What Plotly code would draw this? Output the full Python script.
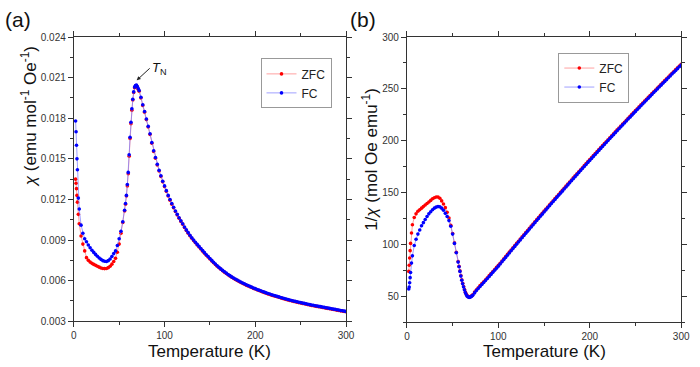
import plotly.graph_objects as go

# ---------------- data ----------------
T = [2, 2.5, 3, 3.5, 4, 5,
     6, 8, 10, 12, 14, 16, 18, 20, 22, 24, 26, 28, 30, 32, 34, 36, 38, 40, 42, 44, 46, 48, 50,
     52, 54,
     56, 57, 58, 59, 60, 61, 62, 63, 64, 65, 66, 67, 68, 69, 70, 71, 72,
     74, 76, 78, 80, 82, 84, 86, 88, 90, 92,
     94, 96, 98, 100, 102, 104, 106, 108, 110, 112,
     114, 116, 118, 120, 122, 124, 126, 128, 130, 132,
     134, 136, 138, 140, 142, 144, 146, 148, 150, 152,
     154, 156, 158, 160, 162, 164, 166, 168, 170, 172,
     174, 176, 178, 180, 182, 184, 186, 188, 190, 192,
     194, 196, 198, 200, 202, 204, 206, 208, 210, 212,
     214, 216, 218, 220, 222, 224, 226, 228, 230, 232,
     234, 236, 238, 240, 242, 244, 246, 248, 250, 252,
     254, 256, 258, 260, 262, 264, 266, 268, 270, 272,
     274, 276, 278, 280, 282, 284, 286, 288, 290, 292,
     294, 296, 298, 300]

# chi in units of 1e-3 emu mol^-1 Oe^-1
chi_fc = [17.8, 17.0, 16.0, 15.0, 14.2, 12.1,
          11.3, 10.1, 9.5, 9.1, 8.87, 8.63, 8.43, 8.25, 8.09, 7.94, 7.8, 7.68, 7.57, 7.48,
          7.43, 7.42, 7.48, 7.6, 7.78, 8.0, 8.2, 8.6, 9.1, 9.65, 10.35,
          11.2, 11.7, 12.3, 13.1, 14.0, 15.3, 16.6, 17.7, 18.7, 19.4, 19.95, 20.3, 20.42,
          20.45, 20.35, 20.2, 20.05,
          19.55, 19.0, 18.5, 17.95, 17.4, 16.85, 16.2, 15.6, 15.1, 14.6,
          14.15, 13.75, 13.35, 13.0, 12.65, 12.3, 12.0, 11.7, 11.42, 11.15,
          10.9, 10.65, 10.42, 10.2, 9.97, 9.75, 9.55, 9.35, 9.17, 9.0,
          8.84, 8.68, 8.53, 8.38, 8.22, 8.07, 7.92, 7.78, 7.64, 7.5,
          7.36, 7.23, 7.1, 6.98, 6.87, 6.76, 6.66, 6.56, 6.46, 6.37,
          6.28, 6.2, 6.12, 6.05, 5.97, 5.9, 5.83, 5.77, 5.7, 5.64,
          5.58, 5.52, 5.46, 5.41, 5.35, 5.3, 5.25, 5.2, 5.15, 5.1,
          5.05, 5.01, 4.96, 4.92, 4.88, 4.84, 4.8, 4.76, 4.72, 4.68,
          4.64, 4.61, 4.57, 4.54, 4.5, 4.47, 4.44, 4.41, 4.38, 4.35,
          4.32, 4.29, 4.26, 4.23, 4.2, 4.18, 4.15, 4.13, 4.1, 4.08,
          4.05, 4.03, 4.0, 3.98, 3.95, 3.93, 3.9, 3.88, 3.85, 3.83,
          3.8, 3.78, 3.75, 3.73]

chi_zfc = [13.5, 13.2, 12.8, 12.3, 11.8, 10.9,
           10.2, 9.3, 8.7, 8.2, 7.7, 7.5, 7.37, 7.28, 7.2, 7.13, 7.07, 7.0, 6.94, 6.9,
           6.89, 6.9, 6.96, 7.06, 7.22, 7.42, 7.65, 8.1, 8.7, 9.5, 10.3,
           11.15, 11.65, 12.25, 13.0, 13.9, 15.2, 16.5, 17.6, 18.6, 19.35, 19.9, 20.25, 20.38,
           20.4, 20.3, 20.15, 20.0,
           19.5, 18.95, 18.45, 17.9, 17.35, 16.8, 16.15, 15.55, 15.05, 14.55,
           14.1, 13.7, 13.3, 12.95, 12.6, 12.25, 11.95, 11.65, 11.38, 11.11,
           10.86, 10.61, 10.38, 10.16, 9.93, 9.71, 9.51, 9.31, 9.13, 8.96,
           8.8, 8.64, 8.49, 8.34, 8.18, 8.03, 7.88, 7.74, 7.6, 7.46,
           7.32, 7.19, 7.07, 6.95, 6.84, 6.73, 6.63, 6.53, 6.43, 6.34,
           6.25, 6.17, 6.09, 6.02, 5.94, 5.87, 5.8, 5.74, 5.67, 5.61,
           5.55, 5.49, 5.43, 5.38, 5.32, 5.27, 5.22, 5.17, 5.12, 5.07,
           5.02, 4.98, 4.93, 4.89, 4.85, 4.81, 4.77, 4.73, 4.69, 4.65,
           4.61, 4.58, 4.54, 4.51, 4.47, 4.44, 4.41, 4.38, 4.35, 4.32,
           4.29, 4.26, 4.23, 4.2, 4.17, 4.15, 4.12, 4.1, 4.07, 4.05,
           4.02, 4.0, 3.97, 3.95, 3.92, 3.9, 3.87, 3.85, 3.82, 3.8,
           3.77, 3.75, 3.72, 3.7]

# 1/chi in mol Oe emu^-1
inv_fc = [57, 59, 63, 68, 73, 82,
          89, 99, 105, 110, 114, 118, 121, 124, 127, 129.5, 131.5, 133.5, 135, 136, 136.5,
          136.3, 135, 133, 130, 127, 123, 117.5, 110, 101, 92,
          83, 78.5, 74, 69.5, 65.5, 62, 59, 56, 53.5, 51.5, 50, 49.3, 49, 49.1, 49.5, 50.2, 51,
          53.3, 55.5, 57.5, 59.5, 61.4, 63.3, 65.2, 67.1, 69.1, 71.1,
          73.1, 75.1, 77.1, 79.1, 81.1, 83.3, 85.4, 87.5, 89.6, 91.8,
          93.9, 96.0, 98.1, 100.2, 102.3, 104.4, 106.5, 108.6, 110.7, 112.7,
          114.8, 116.9, 118.9, 121.0, 123.1, 125.1, 127.2, 129.2, 131.3, 133.3,
          135.3, 137.4, 139.4, 141.4, 143.4, 145.4, 147.4, 149.4, 151.4, 153.4,
          155.4, 157.4, 159.4, 161.4, 163.4, 165.4, 167.3, 169.3, 171.3, 173.2,
          175.2, 177.1, 179.1, 181.0, 182.9, 184.9, 186.8, 188.7, 190.7, 192.6,
          194.5, 196.4, 198.3, 200.2, 202.1, 204.0, 205.9, 207.8, 209.7, 211.5,
          213.4, 215.3, 217.1, 219.0, 220.9, 222.7, 224.6, 226.4, 228.3, 230.1,
          231.9, 233.8, 235.6, 237.4, 239.2, 241.0, 242.8, 244.6, 246.5, 248.2,
          250.0, 251.8, 253.6, 255.4, 257.2, 258.9, 260.7, 262.5, 264.3, 266.0,
          267.8, 269.5, 271.3, 273.0]

inv_zfc = [74, 80, 87, 94, 101, 111,
           119, 126, 129.5, 132, 133.5, 135, 136.5, 138, 139.5, 141, 142.5, 144, 145, 145.8,
           145.7, 144.5, 142, 139, 135.5, 131, 125.5, 118.5, 110.5, 101.5, 92.5,
           83.5, 79, 74.5, 70, 66, 62.5, 59.5, 56.5, 54, 52, 50.4, 49.7, 49.4, 49.5, 49.9, 50.6,
           51.4,
           54.1, 56.3, 58.3, 60.3, 62.2, 64.1, 66.0, 67.9, 69.9, 71.9,
           73.9, 75.9, 77.9, 79.9, 81.9, 84.1, 86.2, 88.3, 90.4, 92.6,
           94.7, 96.8, 98.9, 101.0, 103.1, 105.2, 107.3, 109.4, 111.5, 113.5,
           115.6, 117.7, 119.7, 121.8, 123.9, 125.9, 128.0, 130.0, 132.1, 134.1,
           136.1, 138.2, 140.2, 142.2, 144.2, 146.2, 148.2, 150.2, 152.2, 154.2,
           156.2, 158.2, 160.2, 162.2, 164.2, 166.2, 168.1, 170.1, 172.1, 174.0,
           176.0, 177.9, 179.9, 181.8, 183.7, 185.7, 187.6, 189.5, 191.5, 193.4,
           195.3, 197.2, 199.1, 201.0, 202.9, 204.8, 206.7, 208.6, 210.5, 212.3,
           214.2, 216.1, 217.9, 219.8, 221.7, 223.5, 225.4, 227.2, 229.1, 230.9,
           232.7, 234.6, 236.4, 238.2, 240.0, 241.8, 243.6, 245.4, 247.3, 249.0,
           250.8, 252.6, 254.4, 256.2, 258.0, 259.7, 261.5, 263.3, 265.1, 266.8,
           268.6, 270.3, 272.1, 273.8]

for arr in (chi_fc, chi_zfc, inv_fc, inv_zfc):
    assert len(arr) == len(T), len(arr)

chi_fc_v = [v / 1000 for v in chi_fc]
chi_zfc_v = [v / 1000 for v in chi_zfc]

RED = "#ff0000"
BLUE = "#0000ff"
FONT = "Liberation Sans, Arial, sans-serif"

fig = go.Figure()


def add(x, y, name, color, lcolor, xa, ya, legend):
    fig.add_trace(go.Scatter(
        x=x, y=y, name=name, mode="lines+markers",
        line=dict(color=lcolor, width=1),
        marker=dict(color=color, size=3.6, line=dict(width=0)),
        xaxis=xa, yaxis=ya, legend=legend))


add(T, chi_zfc_v, "ZFC", RED, "rgba(255,120,120,0.7)", "x", "y", "legend")
add(T, chi_fc_v, "FC", BLUE, "rgba(120,120,255,0.7)", "x", "y", "legend")
add(T, inv_zfc, "ZFC", RED, "rgba(255,120,120,0.7)", "x2", "y2", "legend2")
add(T, inv_fc, "FC", BLUE, "rgba(120,120,255,0.7)", "x2", "y2", "legend2")

axis_common = dict(
    showline=True, linecolor="#333", linewidth=1, mirror="ticks",
    ticks="outside", ticklen=5, tickwidth=1, tickcolor="#333",
    showgrid=False, zeroline=False,
    tickfont=dict(family=FONT, size=10, color="#333"),
)
minor_common = dict(ticks="outside", ticklen=3, tickcolor="#333")

fig.update_layout(
    width=700, height=367,
    margin=dict(l=0, r=0, t=0, b=0),
    paper_bgcolor="white", plot_bgcolor="white",
    font=dict(family=FONT),
    xaxis=dict(domain=[0.1029, 0.4986], anchor="y", range=[0, 300], dtick=100,
               minor=dict(dtick=50, **minor_common), **axis_common),
    yaxis=dict(domain=[0.1144, 0.9128], anchor="x", range=[0.003, 0.024], dtick=0.003,
               tick0=0.003, tickformat=".3f",
               minor=dict(dtick=0.0015, **minor_common), **axis_common),
    xaxis2=dict(domain=[0.5871, 0.9857], anchor="y2", range=[0, 300], dtick=100,
                minor=dict(dtick=50, **minor_common), **axis_common),
    yaxis2=dict(domain=[0.1117, 0.9128], anchor="x2", range=[25, 300], dtick=50, tick0=0,
                minor=dict(dtick=25, **minor_common), **axis_common),
    legend=dict(x=262 / 700, y=1 - 54 / 367, xanchor="left", yanchor="top",
                bgcolor="white", bordercolor="#999", borderwidth=1,
                font=dict(family=FONT, size=12, color="#222"),
                itemwidth=30, tracegroupgap=0),
    legend2=dict(x=565 / 700, y=1 - 48 / 367, xanchor="left", yanchor="top",
                 bgcolor="white", bordercolor="#999", borderwidth=1,
                 font=dict(family=FONT, size=12, color="#222"),
                 itemwidth=30, tracegroupgap=0),
)

annots = [
    dict(text="(a)", x=0.0, y=1.0, xref="paper", yref="paper", xanchor="left", yanchor="top",
         showarrow=False, font=dict(family=FONT, size=21, color="#111")),
    dict(text="(b)", x=351 / 700, y=1.0, xref="paper", yref="paper", xanchor="left",
         yanchor="top", showarrow=False, font=dict(family=FONT, size=21, color="#111")),
    dict(text="Temperature (K)", x=210 / 700, y=1 - 356 / 367, xref="paper", yref="paper",
         xanchor="center", yanchor="middle", showarrow=False,
         font=dict(family=FONT, size=17, color="#111")),
    dict(text="Temperature (K)", x=551 / 700, y=1 - 356 / 367, xref="paper", yref="paper",
         xanchor="center", yanchor="middle", showarrow=False,
         font=dict(family=FONT, size=17, color="#111")),
    dict(text="<i>χ</i> (emu mol<sup>-1</sup> Oe<sup>-1</sup>)", x=26 / 700, y=1 - 114 / 367,
         xref="paper", yref="paper", xanchor="center", yanchor="middle", textangle=-90,
         showarrow=False, font=dict(family=FONT, size=17, color="#111")),
    dict(text="1/<i>χ</i> (mol Oe emu<sup>-1</sup>)", x=374 / 700, y=1 - 158 / 367,
         xref="paper", yref="paper", xanchor="center", yanchor="middle", textangle=-90,
         showarrow=False, font=dict(family=FONT, size=17, color="#111")),
    dict(text="<i>T</i><sub>N</sub>", x=69.3, y=0.0208, xref="x", yref="y",
         ax=13, ay=-12, showarrow=True, arrowhead=2, arrowsize=0.8, arrowwidth=1,
         arrowcolor="#222", xanchor="left", yanchor="middle",
         font=dict(family=FONT, size=13, color="#111")),
]
fig.update_layout(annotations=annots)

fig.write_html("out.html")
